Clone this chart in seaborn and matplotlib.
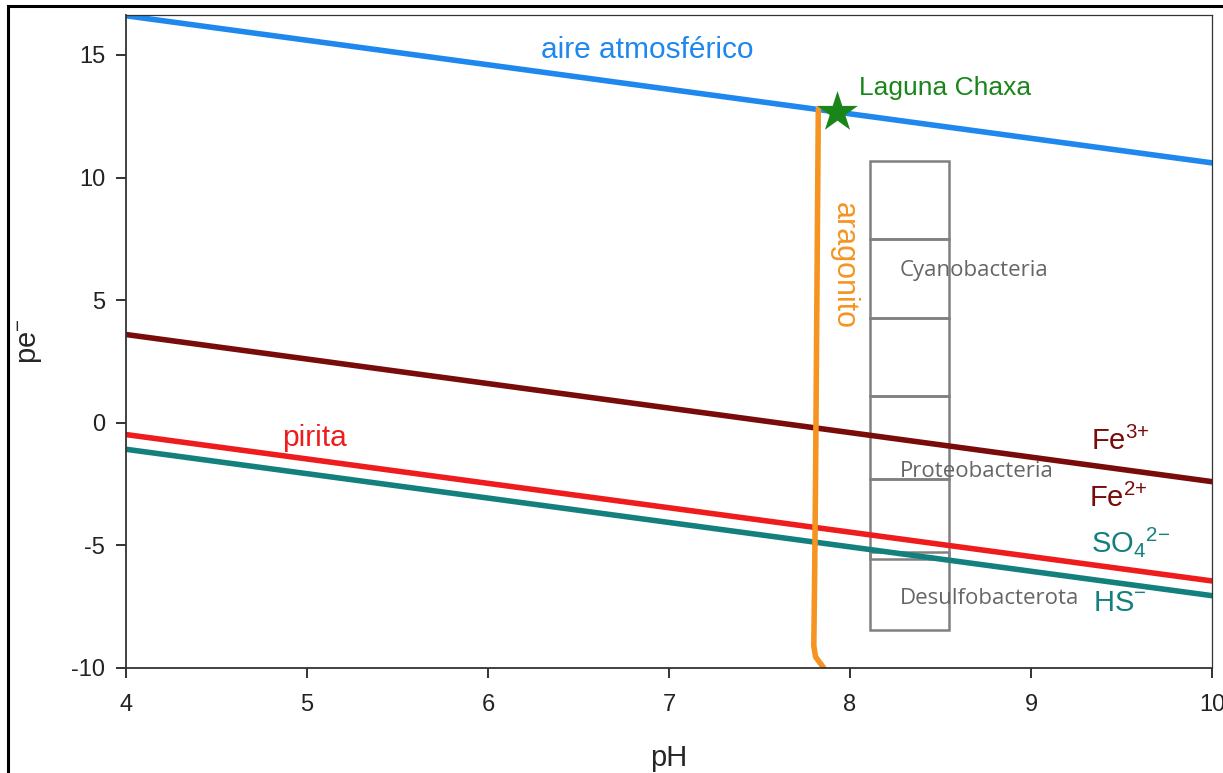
import matplotlib
matplotlib.use("Agg")
import matplotlib.pyplot as plt
import seaborn as sns
import pandas as pd
from matplotlib.patches import Rectangle

sns.set_theme(style="white")
plt.rcParams['font.family'] = ['Liberation Sans', 'DejaVu Sans']
plt.rcParams['mathtext.fontset'] = 'custom'
plt.rcParams['mathtext.rm'] = 'Liberation Sans'
plt.rcParams['mathtext.it'] = 'Liberation Sans'
plt.rcParams['mathtext.bf'] = 'Liberation Sans:bold'

# ---- data ----
ph_ends = [4, 10]
aire_pe = [16.6, 10.6]
fe_pe = [3.6, -2.4]
pirita_pe = [-0.48, -6.45]
hs_pe = [-1.08, -7.05]

arag_ph = [7.825, 7.82, 7.815, 7.81, 7.805, 7.80, 7.81, 7.855]
arag_pe = [12.8, 8.0, 3.0, -2.0, -6.0, -9.1, -9.55, -10.0]

star_ph = [7.93]
star_pe = [12.68]

box_bottom = [7.48, 4.27, 1.10, -2.30, -5.55, -8.45]
box_top = [10.66, 7.48, 4.27, 1.10, -2.30, -5.25]
box_left, box_right = 8.11, 8.545

xticks = [4, 5, 6, 7, 8, 9, 10]
yticks = [-10, -5, 0, 5, 10, 15]

c_blue = "#1e88ee"
c_fe = "#7a0b0b"
c_red = "#ee1c1c"
c_teal = "#14807d"
c_orange = "#f59421"
c_green = "#1a861a"
c_gray = "#808080"

fig = plt.figure(figsize=(12.23, 7.73), dpi=100)
ax = fig.add_axes([126/1223, 1-668/773, (1212-126)/1223, (668-15)/773])

lines = pd.DataFrame({
    "pH": ph_ends * 4,
    "pe": aire_pe + fe_pe + pirita_pe + hs_pe,
    "serie": ["aire"]*2 + ["fe"]*2 + ["pirita"]*2 + ["hs"]*2,
})
sns.lineplot(data=lines, x="pH", y="pe", hue="serie",
             palette={"aire": c_blue, "fe": c_fe, "pirita": c_red, "hs": c_teal},
             linewidth=4, legend=False, ax=ax, sort=False)

arag = pd.DataFrame({"pH": arag_ph, "pe": arag_pe})
sns.lineplot(data=arag, x="pH", y="pe", color=c_orange, linewidth=4,
             sort=False, estimator=None, ax=ax)

# boxes
heights = [t - b for t, b in zip(box_top, box_bottom)]
ax.bar([(box_left + box_right)/2]*len(box_bottom), heights, bottom=box_bottom,
       width=box_right - box_left, fill=False, edgecolor=c_gray, linewidth=1.8, zorder=1)

ax.scatter(star_ph, star_pe, marker="*", s=950, color=c_green, zorder=5, linewidths=0)

ax.set_xlim(4, 10)
ax.set_ylim(-10, 16.63)
ax.set_xticks(xticks)
ax.set_xticklabels([str(v) for v in xticks])
ax.set_yticks(yticks)
ax.set_yticklabels([str(v) for v in yticks])
ax.tick_params(axis="both", which="both", direction="out", length=7, width=1.3,
               labelsize=17, colors="#222222", left=True, bottom=True, pad=8)
ax.tick_params(axis="x", pad=12)
for s in ax.spines.values():
    s.set_color("#333333")
    s.set_linewidth(1.3)
ax.spines["top"].set_linewidth(0.9)
ax.spines["right"].set_linewidth(0.9)

ax.set_xlabel("pH", fontsize=21)
ax.set_ylabel("pe$^{-}$", fontsize=21)
ax.xaxis.set_label_coords(0.5, -0.117)
ax.yaxis.set_label_coords(-0.075, 0.5)

ax.text(6.88, 15.2, "aire atmosférico", color=c_blue, fontsize=21.5, ha="center", va="center")
ax.text(8.05, 13.65, "Laguna Chaxa", color=c_green, fontsize=19, ha="left", va="center")
ax.text(7.965, 6.4, "aragonito", color=c_orange, fontsize=22, ha="center", va="center", rotation=270)
ax.text(5.04, -0.62, "pirita", color=c_red, fontsize=21.5, ha="center", va="center")
ax.text(9.33, -0.75, "Fe$^{3{+}}$", color=c_fe, fontsize=21, ha="left", va="center")
ax.text(9.32, -3.1, "Fe$^{2{+}}$", color=c_fe, fontsize=21, ha="left", va="center")
ax.text(9.33, -4.85, "SO$_4$$^{2{-}}$", color=c_teal, fontsize=21, ha="left", va="center")
ax.text(9.34, -7.35, "HS$^{-}$", color=c_teal, fontsize=21, ha="left", va="center")

gfont = ["Open Sans", "DejaVu Sans"]
ax.text(8.276, 6.2, "Cyanobacteria", color="#666666", fontsize=16, ha="left", va="center", family=gfont)
ax.text(8.276, -2.0, "Proteobacteria", color="#666666", fontsize=16, ha="left", va="center", family=gfont)
ax.text(8.276, -7.15, "Desulfobacterota", color="#666666", fontsize=16, ha="left", va="center", family=gfont)

# outer frame of the figure
fig.patches.append(Rectangle((8/1223, -0.05), 1.2, 1 - 6/773 + 0.05, transform=fig.transFigure,
                             fill=False, edgecolor="black", linewidth=2.2, figure=fig))

fig.savefig("out.png", dpi=100)
